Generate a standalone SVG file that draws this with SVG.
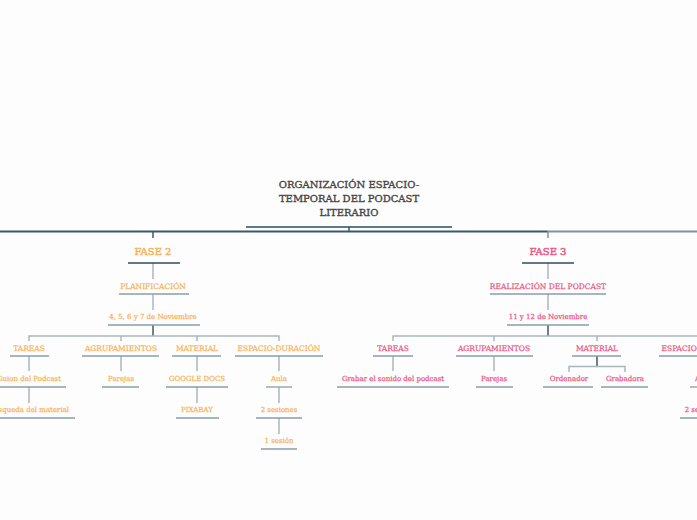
<svg xmlns="http://www.w3.org/2000/svg" width="697" height="520" viewBox="0 0 697 520">
<style>
text{font-family:"DejaVu Serif","Liberation Serif",serif;text-anchor:middle;dominant-baseline:central}
.t{fill:#454545;font-size:10px;stroke:#454545;stroke-width:0.35}
.f2{fill:#f5b55f;stroke:#f5b55f;stroke-width:0.25}
.f3{fill:#ea5a86;stroke:#ea5a86;stroke-width:0.25}
.ph{font-size:10px;stroke-width:0.5}
.l1{font-size:7.5px}
.l2{font-size:7px}
.ul{stroke:#8a9da8;stroke-width:1.3;fill:none}
.ud{stroke:#2e4b5d;stroke-width:1.5;fill:none}
.c{stroke:#a9b6be;stroke-width:1.5;fill:none}
.cd{stroke:#3c586a;stroke-width:1.5;fill:none}
</style>
<rect width="697" height="520" fill="#fdfdfd"/>
<g id="connectors">
<path class="cd" d="M0 231.5H548" style="stroke-width:2"/>
<path class="c" d="M548 231.5H697" style="stroke:#7f939f;stroke-width:2"/>
<path class="cd" d="M349 227V231"/>
<path class="cd" d="M153 231V238"/>
<path class="c" d="M548 231V238" style="stroke:#7f939f"/>
<path class="c" d="M153 263V279M153 294V310"/>
<path class="cd" d="M153 325V336"/>
<path class="c" d="M29 341V336H279V341M121 336V341M197 336V341"/>
<path class="c" d="M29 356V371M29 387V403M197 387V403M279 356V371M279 387V403M279 418V434M121 356V371M197 356V371"/>
<path class="c" d="M548 263V279M548 294V310"/>
<path class="cd" d="M548 325V336"/>
<path class="c" d="M393 341V336H697M494 336V341M597 336V341"/>
<path class="c" d="M393 356V371M494 356V371"/>
<path class="cd" d="M597 356V366"/>
<path class="c" d="M569 372V366.5H625V372"/>
</g>
<g id="title">
<text class="t" x="349" y="184">ORGANIZACIÓN ESPACIO-</text>
<text class="t" x="349" y="198">TEMPORAL DEL PODCAST</text>
<text class="t" x="349" y="212">LITERARIO</text>
<path class="ud" d="M246 227H452"/>
</g>
<g id="fase2">
<text class="f2 ph" x="153" y="251">FASE 2</text>
<path class="ud" d="M128 263H180"/>
</g>
<g id="planificacion">
<text class="f2 l1" x="153" y="286">PLANIFICACIÓN</text>
<path class="ul" d="M119 294H189"/>
</g>
<g id="fechas2">
<text class="f2 l2" x="153" y="317">4, 5, 6 y 7 de Noviembre</text>
<path class="ul" d="M108 325H200"/>
</g>
<g id="tareas2">
<text class="f2 l1" x="29" y="348">TAREAS</text>
<path class="ul" d="M10 356H49"/>
</g>
<g id="guion">
<text class="f2 l2" x="29" y="379">Guion del Podcast</text>
<path class="ul" d="M-8 387H66"/>
</g>
<g id="busqueda">
<text class="f2 l2" x="29" y="410">Búsqueda del material</text>
<path class="ul" d="M-17 418H75"/>
</g>
<g id="agrup2">
<text class="f2 l1" x="121" y="348">AGRUPAMIENTOS</text>
<path class="ul" d="M82 356H159"/>
</g>
<g id="parejas2">
<text class="f2 l2" x="121" y="379">Parejas</text>
<path class="ul" d="M102 387H139"/>
</g>
<g id="material2">
<text class="f2 l1" x="197" y="348">MATERIAL</text>
<path class="ul" d="M172 356H221"/>
</g>
<g id="gdocs">
<text class="f2 l2" x="197" y="379">GOOGLE DOCS</text>
<path class="ul" d="M166 387H228"/>
</g>
<g id="pixabay">
<text class="f2 l2" x="197" y="410">PIXABAY</text>
<path class="ul" d="M176 418H219"/>
</g>
<g id="espacio2">
<text class="f2 l1" x="279" y="348">ESPACIO-DURACIÓN</text>
<path class="ul" d="M235 356H323"/>
</g>
<g id="aula2">
<text class="f2 l2" x="279" y="379">Aula</text>
<path class="ul" d="M266 387H292"/>
</g>
<g id="sesiones2">
<text class="f2 l2" x="279" y="410">2 sesiones</text>
<path class="ul" d="M256 418H302"/>
</g>
<g id="sesion1">
<text class="f2 l2" x="279" y="441">1 sesión</text>
<path class="ul" d="M261 449H297"/>
</g>
<g id="fase3">
<text class="f3 ph" x="548" y="251">FASE 3</text>
<path class="ud" d="M522 263H574"/>
</g>
<g id="realizacion">
<text class="f3 l1" x="548" y="286">REALIZACIÓN DEL PODCAST</text>
<path class="ul" d="M490 294H606"/>
</g>
<g id="fechas3">
<text class="f3 l2" x="548" y="317">11 y 12 de Noviembre</text>
<path class="ul" d="M507 325H589"/>
</g>
<g id="tareas3">
<text class="f3 l1" x="393" y="348">TAREAS</text>
<path class="ul" d="M373 356H413"/>
</g>
<g id="grabar">
<text class="f3 l2" x="393" y="379">Grabar el sonido del podcast</text>
<path class="ul" d="M337 387H449"/>
</g>
<g id="agrup3">
<text class="f3 l1" x="494" y="348">AGRUPAMIENTOS</text>
<path class="ul" d="M456 356H533"/>
</g>
<g id="parejas3">
<text class="f3 l2" x="494" y="379">Parejas</text>
<path class="ul" d="M476 387H513"/>
</g>
<g id="material3">
<text class="f3 l1" x="597" y="348">MATERIAL</text>
<path class="ul" d="M572 356H621"/>
</g>
<g id="ordenador">
<text class="f3 l2" x="569" y="379">Ordenador</text>
<path class="ul" d="M543 387H593"/>
</g>
<g id="grabadora">
<text class="f3 l2" x="625" y="379">Grabadora</text>
<path class="ul" d="M601 387H648"/>
</g>
<g id="espacio3">
<text class="f3 l1" x="703" y="348">ESPACIO-DURACIÓN</text>
<path class="ul" d="M659 356H747"/>
</g>
<g id="aula3">
<text class="f3 l2" x="703" y="379">Aula</text>
<path class="ul" d="M690 387H716"/>
</g>
<g id="sesiones3">
<text class="f3 l2" x="703" y="410">2 sesiones</text>
<path class="ul" d="M680 418H726"/>
</g>
</svg>
